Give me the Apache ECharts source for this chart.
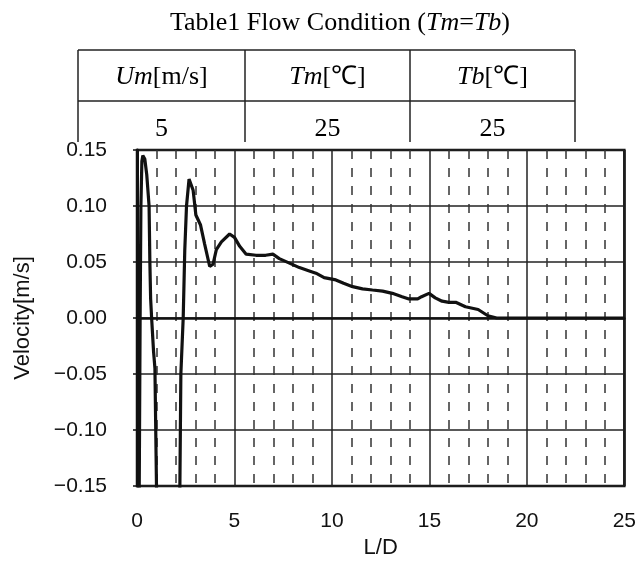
<!DOCTYPE html>
<html>
<head>
<meta charset="utf-8">
<script src="https://cdn.jsdelivr.net/npm/echarts@6/dist/echarts.min.js"></script>
<style>
html,body{margin:0;padding:0;background:#fff;}
#c{width:639px;height:571px;}
</style>
</head>
<body>
<div id="c"></div>
<script>
// L/D positions and velocity values
var ldValues = [0.10,0.13,0.16,0.20,0.25,0.30,0.40,0.50,0.62,0.66,0.70,0.75,0.85,0.92,1.00,1.02,
  2.15,2.20,2.25,2.37,2.45,2.54,2.67,2.88,3.02,3.26,3.47,3.73,3.90,4.07,4.33,4.75,5.00,5.27,5.60,6.10,6.60,6.97,7.30,7.82,8.33,8.84,9.18,9.60,10.20,10.60,11.06,11.57,12.08,12.60,13.10,13.60,13.95,14.40,14.60,14.98,15.30,15.65,16.00,16.35,16.85,17.50,18.00,18.45,19.00,20.00,25.00];
var velocityValues = [-0.20,-0.10,0.00,0.10,0.140,0.145,0.142,0.128,0.100,0.050,0.017,0.000,-0.030,-0.045,-0.150,-0.200,
  -0.200,-0.150,-0.050,0.000,0.060,0.100,0.124,0.114,0.092,0.083,0.066,0.046,0.048,0.061,0.068,0.075,0.072,0.064,0.057,0.056,0.056,0.057,0.053,0.049,0.045,0.042,0.040,0.036,0.034,0.031,0.028,0.026,0.025,0.024,0.022,0.019,0.017,0.017,0.019,0.022,0.018,0.015,0.014,0.014,0.010,0.0076,0.002,0.000,0.000,0.000,0.000];

var xTicks = [0,5,10,15,20,25];
var yTicks = [-0.15,-0.10,-0.05,0.00,0.05,0.10,0.15];

// Table contents
var tableTitle = ['Table1 Flow Condition (', 'Tm', '=', 'Tb', ')'];
var tableHeaders = [['Um','[m/s]'],['Tm','[\u2103]'],['Tb','[\u2103]']];
var tableRow = ['5','25','25'];

var data = ldValues.map(function(x,i){return [x, velocityValues[i]];});

var chart = echarts.init(document.getElementById('c'), null, {renderer:'canvas'});

var serif = '"Liberation Serif","Times New Roman",serif';
var sans = '"Liberation Sans",Arial,sans-serif';
var richStyles = {
  n:{fontFamily:serif,fontSize:26,color:'#111'},
  i:{fontFamily:serif,fontSize:26,fontStyle:'italic',color:'#111'}
};

var tL=78, tR=575, tT=50, tM=101, tB=142, c1=245, c2=410;
var graphics = [];
function line(x1,y1,x2,y2){
  graphics.push({type:'line',shape:{x1:x1,y1:y1,x2:x2,y2:y2},style:{stroke:'#222',lineWidth:1.5},z:10});
}
line(tL,tT,tR,tT); line(tL,tM,tR,tM);
line(tL,tT,tL,tB); line(c1,tT,c1,tB); line(c2,tT,c2,tB); line(tR,tT,tR,tB);

function textEl(x,y,txt){
  graphics.push({type:'text',x:x,y:y,z:11,style:{text:txt,rich:richStyles,
    textAlign:'center',align:'center',textVerticalAlign:'middle',verticalAlign:'middle'}});
}
textEl(340,23,'{n|'+tableTitle[0]+'}{i|'+tableTitle[1]+'}{n|'+tableTitle[2]+'}{i|'+tableTitle[3]+'}{n|'+tableTitle[4]+'}');
var centers=[(tL+c1)/2,(c1+c2)/2,(c2+tR)/2];
tableHeaders.forEach(function(h,i){ textEl(centers[i],77,'{i|'+h[0]+'}{n|'+h[1]+'}'); });
tableRow.forEach(function(v,i){ textEl(centers[i],129,'{n|'+v+'}'); });

chart.setOption({
  animation:false,
  backgroundColor:'#fff',
  grid:{left:137,right:13,top:150,bottom:85,show:true,borderColor:'#111',borderWidth:2.5},
  graphic:graphics,
  xAxis:{
    type:'value',min:0,max:25,interval:5,
    name:'L/D',nameLocation:'middle',nameGap:50,
    nameTextStyle:{fontFamily:sans,fontSize:22,color:'#111'},
    axisLine:{show:true,lineStyle:{color:'#111',width:2.5}},
    axisTick:{show:false},
    axisLabel:{fontFamily:sans,fontSize:21,color:'#111',margin:25},
    splitLine:{show:true,lineStyle:{color:'#222',width:1.5,type:'solid'}},
    minorTick:{show:false,splitNumber:5},
    minorSplitLine:{show:true,lineStyle:{color:'#333',width:1.5,type:[9,9]}}
  },
  yAxis:{
    type:'value',min:-0.15,max:0.15,interval:0.05,
    name:'Velocity[m/s]',nameLocation:'middle',nameGap:103,nameRotate:90,
    nameTextStyle:{fontFamily:sans,fontSize:22,color:'#111'},
    axisLine:{show:true,lineStyle:{color:'#111',width:3}},
    axisTick:{show:true,inside:false,length:4,lineStyle:{color:'#111',width:1.5}},
    axisLabel:{fontFamily:sans,fontSize:21,color:'#111',margin:30,
      formatter:function(v){var s=(Math.round(v*100)/100).toFixed(2); if(s==='-0.00')s='0.00'; return s.replace('-','\u2212');}},
    splitLine:{show:true,lineStyle:{color:'#222',width:1.5}}
  },
  series:[{
    type:'line',data:data,showSymbol:false,symbol:'none',clip:true,
    lineStyle:{color:'#111',width:3.2},z:5
  }]
});
</script>
</body>
</html>
